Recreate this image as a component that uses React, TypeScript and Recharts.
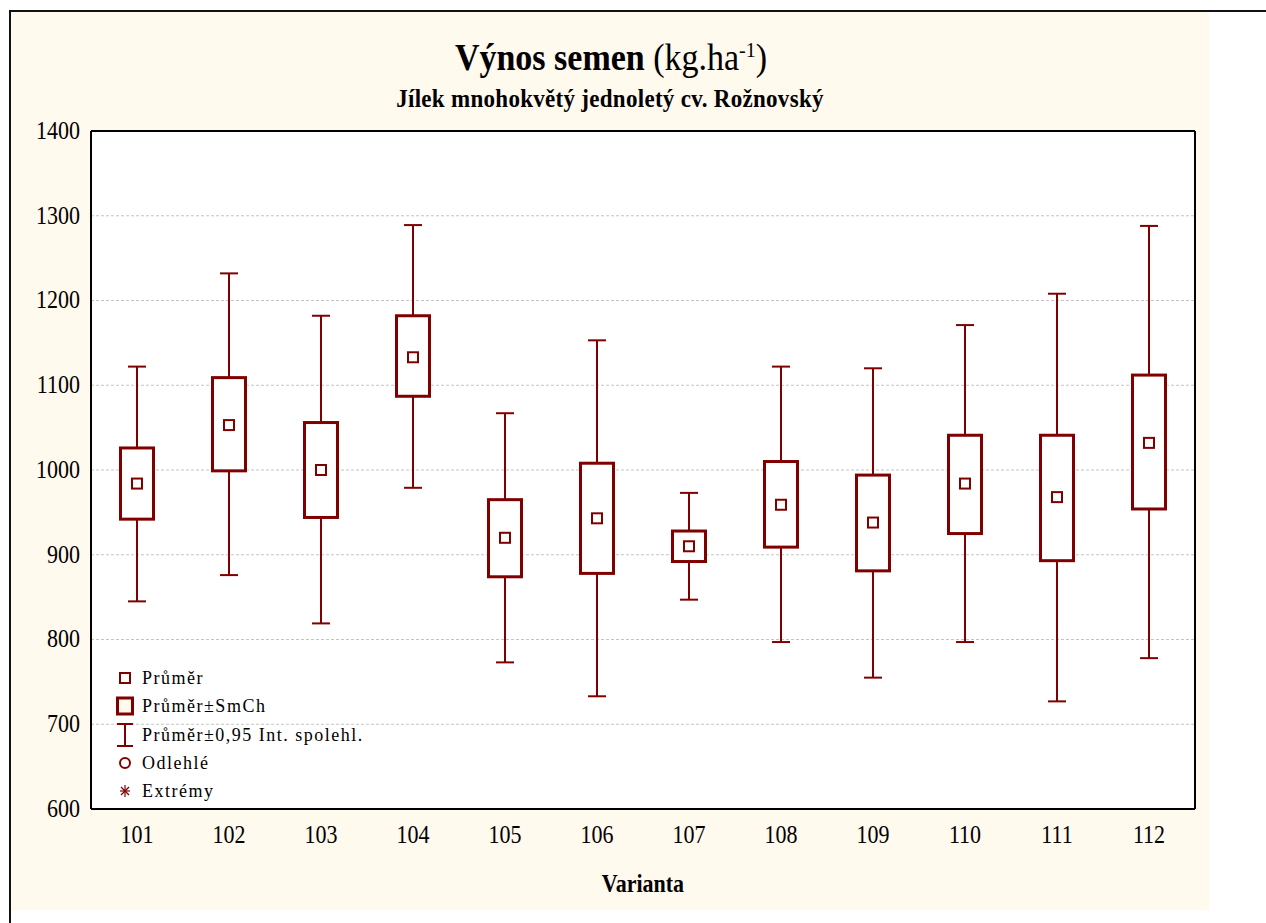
import React from "react";
import { Bar, CartesianGrid, ComposedChart, XAxis, YAxis } from "recharts";

const variants = ["101", "102", "103", "104", "105", "106", "107", "108", "109", "110", "111", "112"];
const means = [984, 1053, 1000, 1133, 920, 943, 910, 959, 938, 984, 968, 1032];
const seHigh = [1026, 1109, 1056, 1182, 965, 1008, 928, 1010, 994, 1041, 1041, 1112];
const seLow = [942, 999, 944, 1087, 874, 878, 892, 909, 881, 925, 893, 954];
const ciHigh = [1122, 1232, 1182, 1289, 1067, 1153, 973, 1122, 1120, 1171, 1208, 1288];
const ciLow = [845, 876, 819, 979, 773, 733, 847, 797, 755, 797, 727, 778];
const yTicks = [600, 700, 800, 900, 1000, 1100, 1200, 1300, 1400];

const legendItems = ["Průměr", "Průměr±SmCh", "Průměr±0,95 Int. spolehl.", "Odlehlé", "Extrémy"];

const DARK_RED = "#800000";
const CREAM = "#FFF9EE";
const FONT = "'Liberation Serif', 'Times New Roman', serif";
const STRETCH = 1.1;

const data = variants.map((name, i) => ({
  name,
  mean: means[i],
  seHigh: seHigh[i],
  seLow: seLow[i],
  ciHigh: ciHigh[i],
  ciLow: ciLow[i],
}));

// stretch text vertically around its baseline, like the original export
const stretchAt = (y: number) => `translate(0 ${y}) scale(1 ${STRETCH}) translate(0 ${-y})`;

const BoxShape = (props: any) => {
  const { x, y, width, height, payload } = props;
  if (!payload) return null;
  const top = Math.min(y, y + height);
  const bottom = Math.max(y, y + height);
  const span = payload.ciHigh - payload.ciLow;
  const toY = (v: number) => top + ((payload.ciHigh - v) / span) * (bottom - top);
  const cx = x + width / 2;
  const boxW = 33;
  const capW = 18;
  const meanW = 10;
  const yBoxTop = toY(payload.seHigh);
  const yBoxBottom = toY(payload.seLow);
  const yMean = toY(payload.mean);
  return (
    <g>
      <line x1={cx} x2={cx} y1={top} y2={bottom} stroke={DARK_RED} strokeWidth={2} />
      <line x1={cx - capW / 2} x2={cx + capW / 2} y1={top} y2={top} stroke={DARK_RED} strokeWidth={2} />
      <line x1={cx - capW / 2} x2={cx + capW / 2} y1={bottom} y2={bottom} stroke={DARK_RED} strokeWidth={2} />
      <rect
        x={cx - boxW / 2}
        y={yBoxTop}
        width={boxW}
        height={yBoxBottom - yBoxTop}
        fill="#fff"
        stroke={DARK_RED}
        strokeWidth={3}
      />
      <rect
        x={cx - meanW / 2}
        y={yMean - meanW / 2}
        width={meanW}
        height={meanW}
        fill="none"
        stroke={DARK_RED}
        strokeWidth={2}
      />
    </g>
  );
};

const XTick = (props: any) => {
  const { x, y, payload } = props;
  const base = y + 16;
  return (
    <text x={x} y={base} textAnchor="middle" fontSize={22} fontFamily={FONT} fill="#000" transform={stretchAt(base)}>
      {payload.value}
    </text>
  );
};

const YTick = (props: any) => {
  const { x, y, payload } = props;
  const base = y + 8;
  return (
    <text x={x} y={base} textAnchor="end" fontSize={22} fontFamily={FONT} fill="#000" transform={stretchAt(base)}>
      {payload.value}
    </text>
  );
};

const LegendIcon = ({ index, cx, cy }: { index: number; cx: number; cy: number }) => {
  if (index === 0) {
    return <rect x={cx - 5} y={cy - 5} width={10} height={10} fill="none" stroke={DARK_RED} strokeWidth={2} />;
  }
  if (index === 1) {
    return <rect x={cx - 7.5} y={cy - 8} width={15} height={16} fill={CREAM} stroke={DARK_RED} strokeWidth={3} />;
  }
  if (index === 2) {
    return (
      <g stroke={DARK_RED} strokeWidth={2}>
        <line x1={cx - 8} x2={cx + 8} y1={cy - 11} y2={cy - 11} />
        <line x1={cx - 8} x2={cx + 8} y1={cy + 11} y2={cy + 11} />
        <line x1={cx} x2={cx} y1={cy - 11} y2={cy + 11} />
      </g>
    );
  }
  if (index === 3) {
    return <circle cx={cx} cy={cy} r={5} fill="none" stroke={DARK_RED} strokeWidth={2} />;
  }
  return (
    <g stroke={DARK_RED} strokeWidth={1.2}>
      <line x1={cx - 5} x2={cx + 5} y1={cy} y2={cy} />
      <line x1={cx} x2={cx} y1={cy - 6} y2={cy + 6} />
      <line x1={cx - 4} x2={cx + 4} y1={cy - 4} y2={cy + 4} />
      <line x1={cx - 4} x2={cx + 4} y1={cy + 4} y2={cy - 4} />
    </g>
  );
};

export default function App() {
  const tickLineStyle = { stroke: "#000", strokeWidth: 2 };
  return (
    <div
      style={{
        position: "absolute",
        left: 0,
        top: 0,
        width: 1266,
        height: 923,
        overflow: "hidden",
        background: "#fff",
        fontFamily: FONT,
      }}
    >
      <div
        style={{
          position: "absolute",
          left: 9,
          top: 10,
          width: 1257,
          height: 913,
          borderTop: "2px solid #111",
          borderLeft: "2px solid #111",
          boxSizing: "border-box",
        }}
      />
      <div style={{ position: "absolute", left: 11, top: 12, width: 1198, height: 898, background: CREAM }} />
      <div style={{ position: "absolute", left: 11, top: 12 }}>
        <ComposedChart
          width={1198}
          height={898}
          data={data}
          margin={{ top: 119, right: 14, bottom: 0, left: 0 }}
        >
          <CartesianGrid
            xAxisId="x"
            yAxisId="y"
            vertical={false}
            stroke="#c4c4c4"
            strokeDasharray="3 2"
            fill="#fff"
          />
          <XAxis
            xAxisId="x"
            dataKey="name"
            height={101}
            axisLine={{ stroke: "#000", strokeWidth: 2 }}
            tickLine={false}
            tickSize={0}
            tickMargin={18}
            tick={XTick}
            interval={0}
          />
          <XAxis
            xAxisId="xb"
            dataKey="name"
            mirror
            tick={false}
            tickLine={tickLineStyle}
            tickSize={5}
            axisLine={false}
            interval={0}
          />
          <XAxis
            xAxisId="xt"
            dataKey="name"
            orientation="top"
            mirror
            tick={false}
            tickLine={tickLineStyle}
            tickSize={5}
            axisLine={{ stroke: "#000", strokeWidth: 2 }}
            interval={0}
          />
          <YAxis
            yAxisId="y"
            width={80}
            domain={[600, 1400]}
            ticks={yTicks}
            interval={0}
            axisLine={{ stroke: "#000", strokeWidth: 2 }}
            tickLine={false}
            tickSize={0}
            tickMargin={11}
            tick={YTick}
          />
          <YAxis
            yAxisId="yl"
            domain={[600, 1400]}
            ticks={yTicks}
            interval={0}
            mirror
            tick={false}
            tickLine={tickLineStyle}
            tickSize={5}
            axisLine={false}
          />
          <YAxis
            yAxisId="yr"
            orientation="right"
            domain={[600, 1400]}
            ticks={yTicks}
            interval={0}
            mirror
            tick={false}
            tickLine={tickLineStyle}
            tickSize={5}
            axisLine={{ stroke: "#000", strokeWidth: 2 }}
          />
          <Bar
            xAxisId="x"
            yAxisId="y"
            dataKey={(d: any) => [d.ciLow, d.ciHigh]}
            barSize={36}
            shape={BoxShape}
            isAnimationActive={false}
          />
        </ComposedChart>
      </div>
      <svg
        width={1266}
        height={923}
        style={{ position: "absolute", left: 0, top: 0, pointerEvents: "none" }}
        fontFamily={FONT}
      >
        <text x={611} y={70} textAnchor="middle" fill="#000" transform={stretchAt(70)}>
          <tspan fontSize={34} fontWeight="bold">Výnos semen</tspan>
          <tspan fontSize={34}> (kg.ha</tspan>
          <tspan fontSize={20} dy={-12}>-1</tspan>
          <tspan fontSize={34} dy={12}>)</tspan>
        </text>
        <text
          x={610}
          y={107}
          textAnchor="middle"
          fontSize={23}
          fontWeight="bold"
          letterSpacing={0.3}
          fill="#000"
          transform={stretchAt(107)}
        >
          Jílek mnohokvětý jednoletý cv. Rožnovský
        </text>
        <text
          x={643}
          y={892}
          textAnchor="middle"
          fontSize={22}
          fontWeight="bold"
          fill="#000"
          transform={stretchAt(892)}
        >
          Varianta
        </text>
        {legendItems.map((label, i) => {
          const cy = [678, 706, 735, 763, 791][i];
          return (
            <g key={label}>
              <LegendIcon index={i} cx={125} cy={cy} />
              <text x={142} y={cy + 6} fontSize={18} letterSpacing={1.5} fill="#000">
                {label}
              </text>
            </g>
          );
        })}
      </svg>
    </div>
  );
}
